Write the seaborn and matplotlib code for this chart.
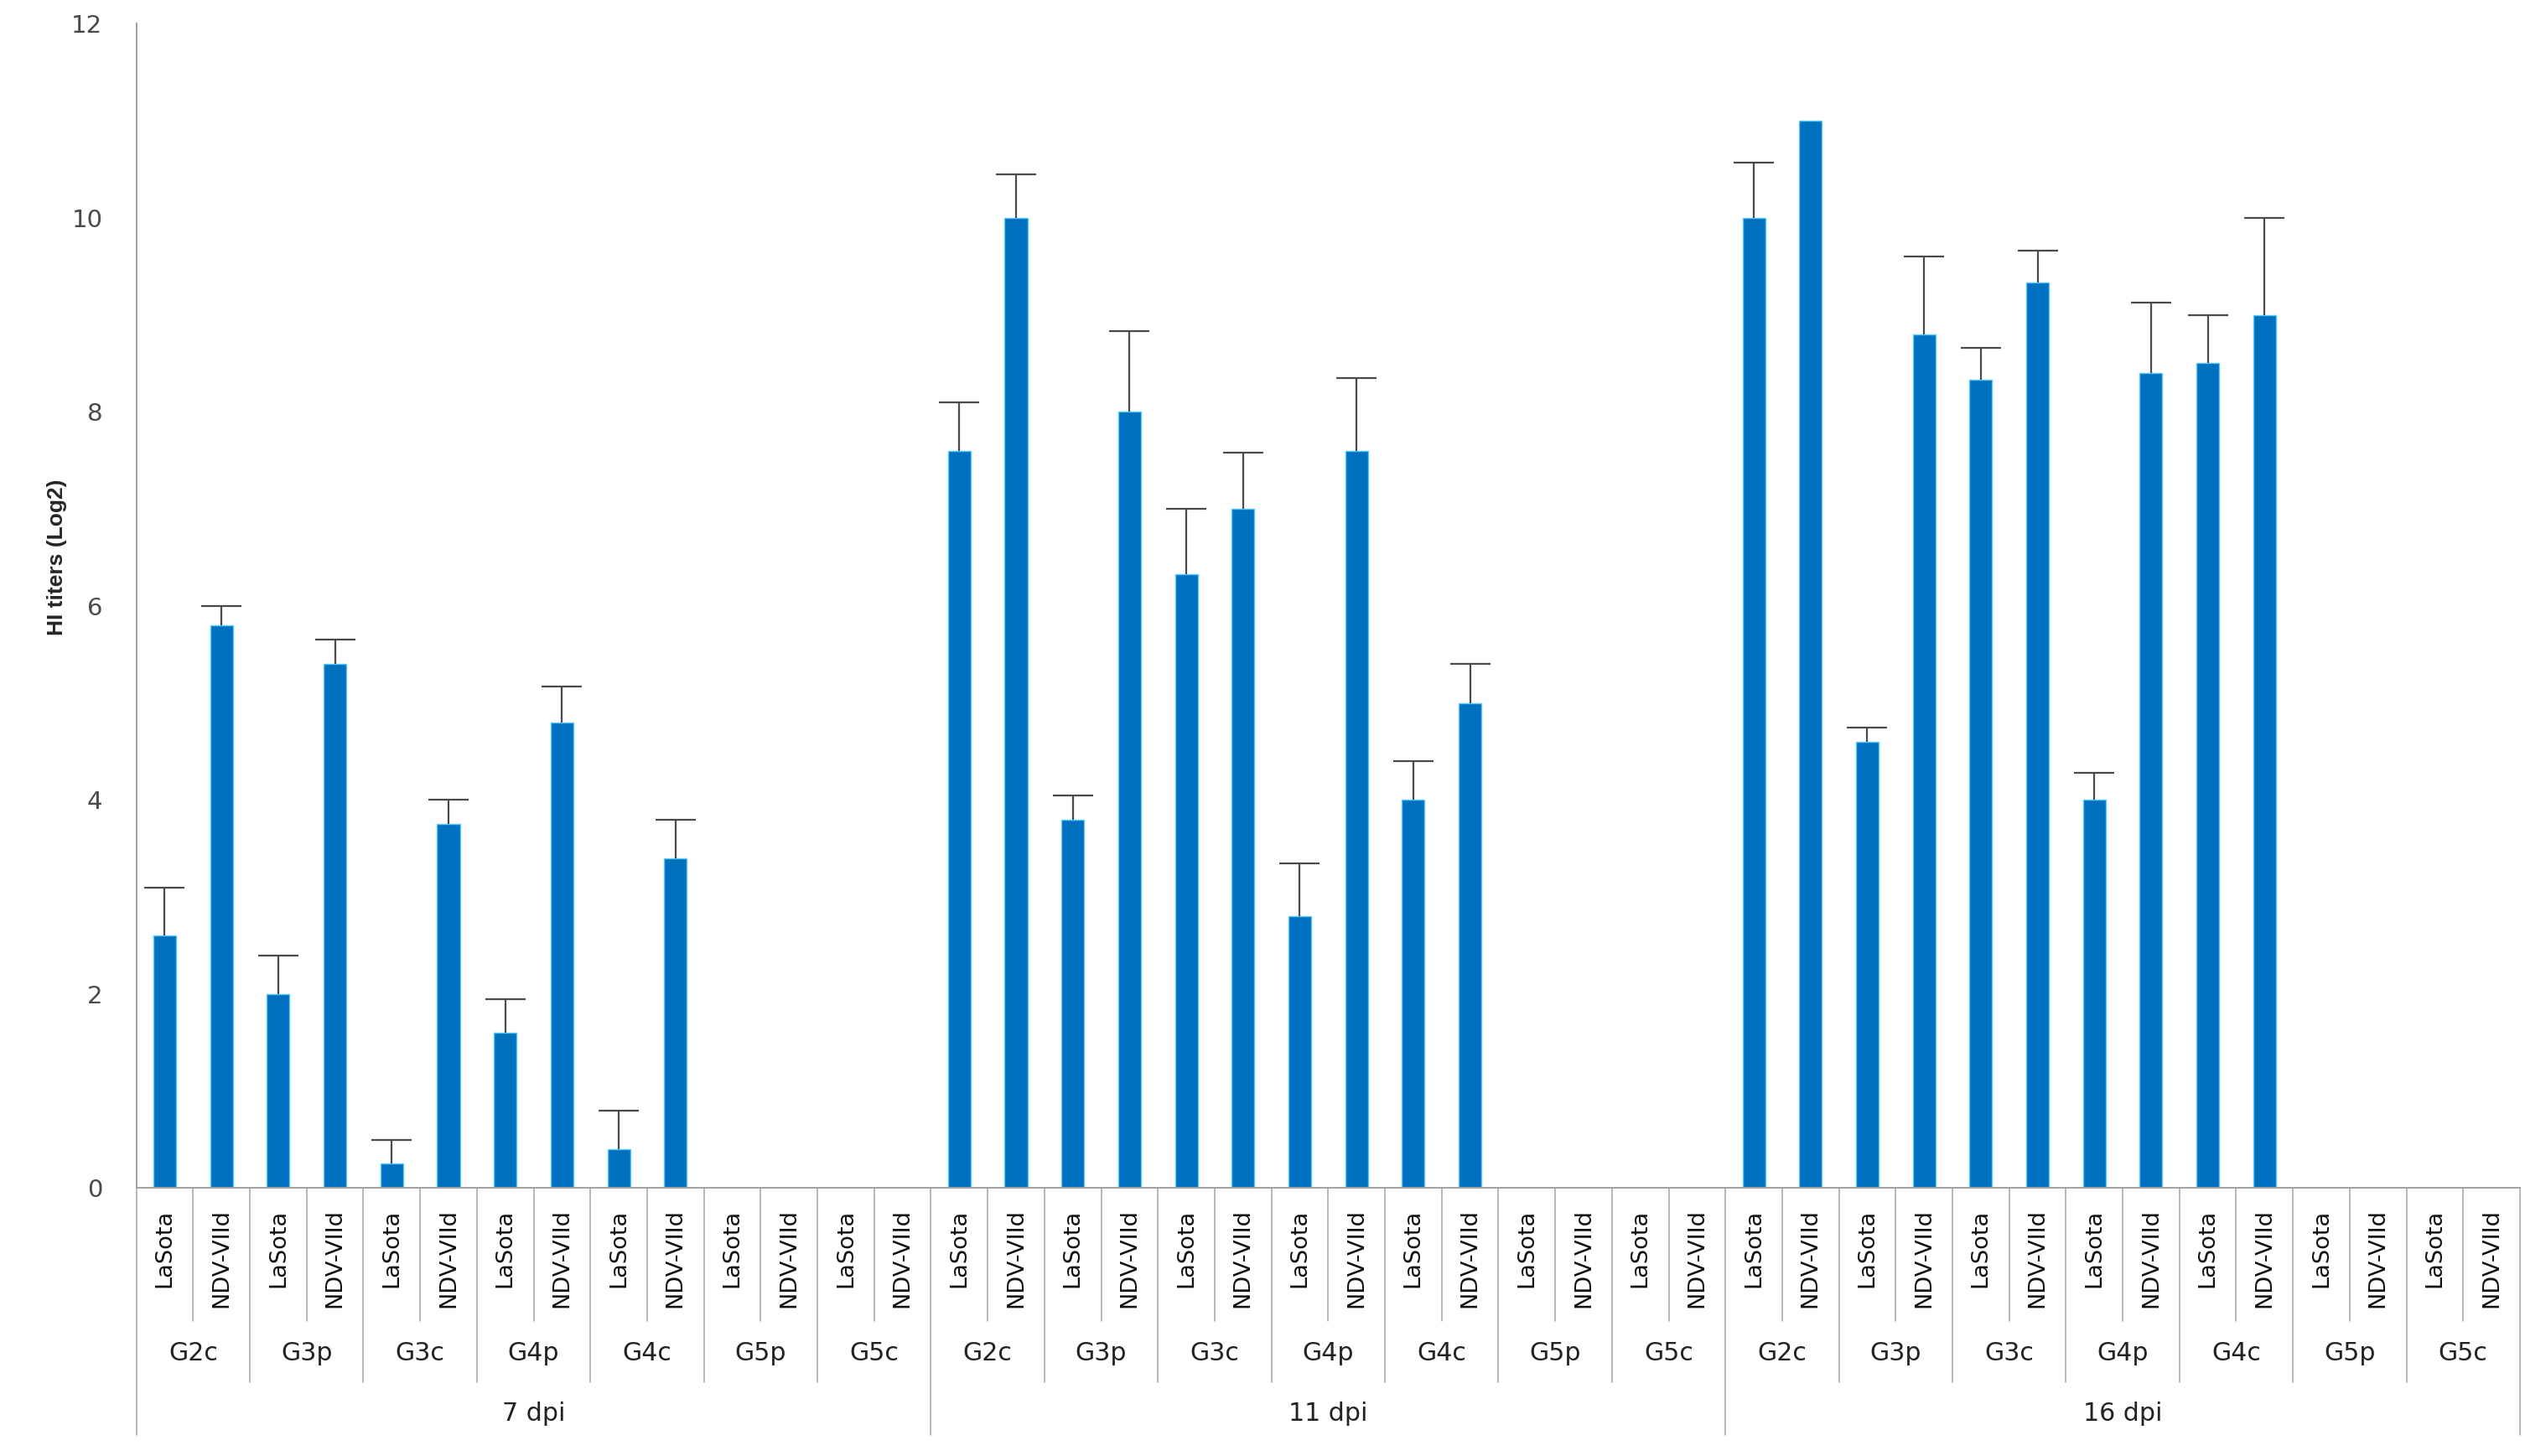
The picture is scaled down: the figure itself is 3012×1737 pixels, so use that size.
import numpy as np
import pandas as pd
import seaborn as sns
import matplotlib.pyplot as plt
import matplotlib.transforms as mtransforms

# chart data
dpi_labels = ['7 dpi', '11 dpi', '16 dpi']
groups = ['G2c', 'G3p', 'G3c', 'G4p', 'G4c', 'G5p', 'G5c']
strains = ['LaSota', 'NDV-VIId']

mean_7 = [2.6, 5.8, 2.0, 5.4, 0.25, 3.75, 1.6, 4.8, 0.4, 3.4, 0, 0, 0, 0]
sd_7 = [0.5, 0.2, 0.4, 0.25, 0.25, 0.25, 0.35, 0.37, 0.4, 0.4, 0, 0, 0, 0]
mean_11 = [7.6, 10.0, 3.8, 8.0, 6.33, 7.0, 2.8, 7.6, 4.0, 5.0, 0, 0, 0, 0]
sd_11 = [0.5, 0.45, 0.25, 0.83, 0.67, 0.58, 0.55, 0.75, 0.4, 0.4, 0, 0, 0, 0]
mean_16 = [10.0, 11.0, 4.6, 8.8, 8.33, 9.33, 4.0, 8.4, 8.5, 9.0, 0, 0, 0, 0]
sd_16 = [0.57, 0, 0.15, 0.8, 0.33, 0.33, 0.28, 0.73, 0.5, 1.0, 0, 0, 0, 0]

rows = []
for d, means, sds in zip(dpi_labels, [mean_7, mean_11, mean_16], [sd_7, sd_11, sd_16]):
    k = 0
    for g in groups:
        for s in strains:
            rows.append({'key': d + '|' + g + '|' + s, 'dpi': d, 'group': g,
                         'strain': s, 'value': means[k], 'sd': sds[k]})
            k += 1
df = pd.DataFrame(rows)
n = len(df)

sns.set_style('white')
plt.rcParams['font.family'] = ['DejaVu Sans']

fig = plt.figure(figsize=(15.06, 8.685), dpi=200)
ax = fig.add_axes([0.054, 0.184, 0.944, 0.7997])

sns.barplot(data=df, x='key', y='value', order=list(df['key']), color='#0070C0',
            saturation=1, width=0.4, errorbar=None, edgecolor='#5BC8F5',
            linewidth=0.5, ax=ax)

# positive-only error bars (Excel style), cap on top only
xs = np.arange(n)
has_err = df['sd'].values > 0
eb = ax.errorbar(xs[has_err], df['value'].values[has_err],
                 yerr=[np.zeros(has_err.sum()), df['sd'].values[has_err]],
                 fmt='none', ecolor='#4a4a4a', elinewidth=0.8, capsize=8.5, capthick=0.8)
eb[1][0].set_visible(False)

ax.set_xlim(-0.5, n - 0.5)
ax.set_ylim(0, 12)
ax.set_yticks(range(0, 13, 2))
ax.tick_params(axis='y', direction='out', length=5.5, width=0.6, color='#A0A0A0',
               pad=9, labelsize=10.5, labelcolor='#4a4a4a')
ax.tick_params(axis='x', length=0, labelbottom=False)
ax.set_xlabel('')
ax.set_ylabel('HI titers (Log2)', fontsize=9.5, fontweight='bold',
              family=['Liberation Sans', 'DejaVu Sans'])
ax.yaxis.set_label_coords(-0.029, 0.542)
for side in ['top', 'right']:
    ax.spines[side].set_visible(False)
for side in ['left', 'bottom']:
    ax.spines[side].set_color('#A0A0A0')
    ax.spines[side].set_linewidth(0.7)

# multi-level category axis
trans = mtransforms.blended_transform_factory(ax.transData, ax.transAxes)
for i in range(n + 1):
    if i % 14 == 0:
        y_end = -0.2124
    elif i % 2 == 0:
        y_end = -0.167
    else:
        y_end = -0.1145
    ax.plot([i - 0.5, i - 0.5], [0, y_end], transform=trans, color='#A6A6A6',
            lw=0.55, clip_on=False)

for i, s in enumerate(df['strain']):
    ax.text(i, -0.018, s, transform=trans, rotation=90, ha='center', va='top',
            fontsize=9.8, color='#111111')

for j in range(n // 2):
    ax.text(2 * j + 0.5, -0.142, df['group'].iloc[2 * j], transform=trans,
            ha='center', va='center', fontsize=10.8, color='#222222')

for d_i, d in enumerate(dpi_labels):
    ax.text(14 * d_i + 6.5, -0.194, d, transform=trans, ha='center', va='center',
            fontsize=10.8, color='#222222')

fig.savefig('out.png', dpi=200)
